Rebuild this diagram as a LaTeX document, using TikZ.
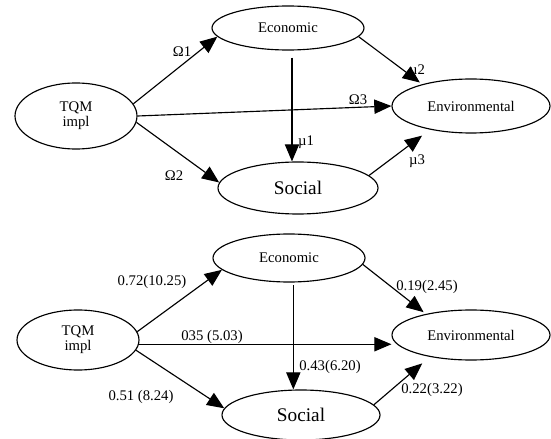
\documentclass[tikz,border=0pt]{standalone}
\usepackage{fontspec}
\setmainfont{Liberation Serif}
\usepackage{tikz}
\usetikzlibrary{shapes,arrows.meta}

\tikzset{
	latent/.style={ellipse, draw=black, line width=0.8pt, inner sep=0pt, font=\fontsize{10.3}{10.5}\selectfont, align=center},
	path/.style={line width=0.8pt, -{Triangle[length=12pt,width=10pt]}},
	coef/.style={inner sep=0pt, font=\fontsize{10.3}{12}\selectfont}
}

\begin{document}
\begin{tikzpicture}[x=0.7pt, y=-0.7pt]
	\useasboundingbox (0,0) rectangle (551,439);

	% upper model: symbols
	\node[latent, minimum width=85.4pt, minimum height=46.2pt] (tqm) at (76,116) {TQM\\impl};
	\node[latent, minimum width=106.4pt, minimum height=30.8pt] (eco) at (288,28) {Economic};
	\node[latent, minimum width=110.6pt, minimum height=37.8pt] (env) at (471,106) {Environmental};
	\node[latent, minimum width=112pt, minimum height=36.4pt, font=\fontsize{13.5}{14}\selectfont] (soc) at (298,188) {Social};

	\path [draw, path] (tqm.12) -- (eco.187);
	\path [draw, path] (tqm.-6) -- (soc.176);
	\path [draw, path] (tqm.east) -- (env.west);
	\path [draw, path, shorten <=5pt] (eco.-80) -- (eco.-80 |- soc.north);
	\path [draw, path, shorten >=2pt] (eco.-7) -- (env.156);
	\path [draw, path, shorten >=7pt] (soc.10) -- (env.-150);

	\node[coef] (o1) at (182,52) {Ω1};
	\node[coef] (o2) at (174,176) {Ω2};
	\node[coef] (o3) at (358,100) {Ω3};
	\node[coef] (m1) at (306,142) {µ1};
	\node[coef] (m2) at (417,71) {µ2};
	\node[coef] (m3) at (417,161) {µ3};

	% lower model: estimates
	\node[latent, minimum width=85.4pt, minimum height=42pt] (tqmb) at (78,340) {TQM\\impl};
	\node[latent, minimum width=106.4pt, minimum height=33.6pt] (ecob) at (289,258) {Economic};
	\node[latent, minimum width=110.6pt, minimum height=35pt] (envb) at (471,335) {Environmental};
	\node[latent, minimum width=110.6pt, minimum height=35pt, font=\fontsize{13.5}{14}\selectfont] (socb) at (301,415) {Social};

	\path [draw, path] (tqmb.8) -- (ecob.190);
	\path [draw, path] (tqmb.-10) -- (socb.175);
	\path [draw, path] (tqmb.-4) -- (tqmb.-4 -| envb.west);
	\path [draw, path, shorten <=2pt] (ecob.-80) -- (ecob.-80 |- socb.north);
	\path [draw, path, shorten >=2pt] (ecob.-5) -- (envb.155);
	\path [draw, path, shorten >=7pt] (socb.8) -- (envb.-152);

	\node[coef] (b1) at (152,282) {0.72(10.25)};
	\node[coef] (b2) at (212,337) {035 (5.03)};
	\node[coef] (b3) at (141,397) {0.51 (8.24)};
	\node[coef] (b4) at (427,287) {0.19(2.45)};
	\node[coef] (b5) at (330,367) {0.43(6.20)};
	\node[coef] (b6) at (432,390) {0.22(3.22)};
\end{tikzpicture}
\end{document}
